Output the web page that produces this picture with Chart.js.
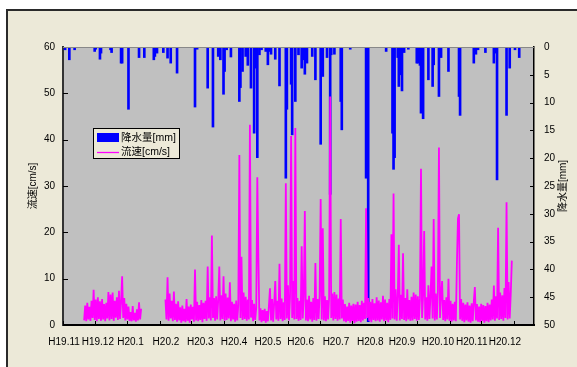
<!DOCTYPE html>
<html>
<head>
<meta charset="utf-8">
<script src="https://cdn.jsdelivr.net/npm/chart.js@4.4.0/dist/chart.umd.min.js"></script>
<style>
html,body{margin:0;padding:0;background:#fff;}
canvas{display:block;}
</style>
</head>
<body>
<canvas id="c" width="577" height="367"></canvas>
<script>
// ---- Data (x = days since H19.11.1) ----
const xLabels = ['H19.11','H19.12','H20.1','H20.2','H20.3','H20.4','H20.5','H20.6','H20.7','H20.8','H20.9','H20.10','H20.11','H20.12'];
const labelDays = [1,33,64,97.5,130,162,194,225,258.5,291,321,355,387,418.5];
const monthStartDays = [0,30,61,92,121,152,182,213,243,274,305,335,366,396,427];

const rainDays = [2,6,11,30,31,35,36,45,46,55,56,62,72,77,86,87,89,95,99,102,108,125,127,137,142,147,149,152,153,155,159,167,168,170,173,175,178,181,183,184,186,188,192,194,195,197,201,205,211,212,216,217,220,223,226,227,229,231,236,239,244,245,246,250,253,254,257,263,264,272,287,288,289,306,312,313,314,317,318,319,321,323,327,335,336,338,339,341,346,350,351,356,358,365,375,376,389,391,393,400,408,409,411,420,423,428,432];
const rainMM = [0.5,2.3,0.5,0.8,0.4,2.2,1.1,0.5,1.0,2.9,2.9,11.2,1.9,1.9,2.3,1.7,1.1,1.0,2.0,2.9,4.7,10.8,0.4,7.4,14.4,1.7,2.3,8.5,4.4,0.5,1.8,9.8,7.3,4.4,1.7,3.3,7.4,15.5,3.8,19.9,1.4,0.5,0.8,3.2,0.8,1.3,2.2,7.0,23.6,11.2,6.7,15.8,9.8,1.4,3.8,2.3,4.9,2.9,1.7,5.9,17.5,3.8,5.3,1.9,26.5,1.4,1.3,9.8,14.9,0.4,23.6,3.8,49.4,0.8,15.5,22.0,19.9,1.9,7.1,5.0,7.9,1.0,0.4,2.9,2.9,3.3,11.9,12.9,5.9,7.1,3.2,8.9,1.9,4.4,8.9,12.3,2.9,1.3,0.5,1.0,2.9,1.1,23.9,12.3,3.8,0.5,1.9];

const flowSeg1Start = 20;
const flowSeg1 = [1.0,4.2,0.8,4.8,1.2,3.9,0.9,5.2,1.5,7.6,
 1.1,5.5,0.8,6.0,1.3,5.1,0.9,5.6,1.2,4.5,
 0.8,4.8,1.4,7.1,1.0,6.6,1.3,7.0,0.9,5.2,
 1.6,6.0,1.1,7.4,1.3,5.0,10.5,1.5,5.8,1.0,
 4.6,1.2,4.0,0.9,2.8,0.8,4.1,1.0,2.6,0.7,
 3.4,1.0,4.9,1.2,3.5];
const flowSeg2Start = 97;
const flowSeg2 = [5.5,1.2,10.3,0.9,6.8,1.4,5.2,0.8,7.2,1.1,
 4.6,0.7,5.1,1.0,3.8,0.5,4.2,0.8,3.5,0.6,
 5.6,0.9,4.0,0.5,4.4,1.2,3.9,0.7,12.0,1.0,
 5.0,0.8,4.3,1.1,5.4,0.6,4.8,1.3,5.2,0.9,
 12.6,1.4,6.0,1.0,19.3,1.5,5.8,0.9,6.2,1.2,
 5.5,12.6,1.0,6.4,1.3,10.5,0.9,6.8,1.1,5.9,
 1.4,9.2,0.8,5.0,1.2,4.6,0.7,5.3,1.0,4.4,
 36.7,1.5,14.7,1.1,7.0,1.3,6.1,0.9,5.5,1.2,
 43.2,1.6,5.4,0.8,4.6,1.1,3.8,31.9,14.5,1.0,
 3.6,0.6,3.2,0.9,3.5,0.5,3.0,0.8,4.2,7.9,
 1.0,5.6,0.7,4.8,9.5,1.2,5.2,0.9,13.2,1.3,
 5.7,0.8,4.9,1.1,30.6,1.4,8.6,1.0,6.1,40.8,
 1.5,9.5,1.2,42.5,1.3,5.8,0.9,5.2,1.1,17.0,
 1.4,6.0,24.6,1.0,5.5,0.8,6.3,1.2,5.0,0.7,
 5.8,1.1,13.4,0.9,5.6,1.3,6.4,27.2,1.2,20.9,
 1.0,6.2,0.8,5.4,1.2,6.0,49.3,1.5,6.8,1.0,
 7.1,1.3,6.6,0.9,5.7,1.2,22.9,1.4,5.5,0.8,
 4.5,0.6,4.0,0.9,4.8,0.5,4.2,0.8,4.6,0.4,
 4.4,0.7,5.0,0.9,4.3,0.6,5.2,1.0,4.8,1.3,
 25.2,1.5,5.8,0.9,5.0,0.6,5.6,1.1,4.7,0.8,
 6.0,1.0,5.3,0.7,4.9,1.2,6.3,0.8,5.5,1.0,
 4.8,0.6,5.6,1.1,19.6,1.4,28.4,1.2,7.7,0.9,
 6.2,17.3,1.0,6.5,1.3,15.5,1.1,5.8,0.8,7.7,
 1.2,5.4,0.9,6.1,1.0,7.0,1.3,6.6,0.9,6.2,
 1.1,5.8,33.7,1.5,6.4,20.3,1.2,6.0,0.9,8.6,
 1.3,6.3,12.6,1.4,22.9,1.0,6.8,1.2,7.4,38.3,
 1.5,6.6,9.5,1.1,5.4,0.8,6.0,1.2,10.0,0.9,
 5.2,0.7,4.6,1.0,5.0,0.8,13.2,23.0,23.9,1.2,
 5.6,0.9,4.8,0.6,4.4,1.0,4.9,0.7,4.2,0.5,
 4.7,0.8,5.1,8.2,1.0,4.5,0.7,4.0,0.6,4.6,
 0.9,4.3,0.5,4.1,0.8,4.8,0.6,4.4,1.0,5.5,
 1.2,8.5,0.9,6.2,1.4,21.0,1.1,7.0,1.3,6.4,
 0.9,8.0,1.5,26.5,1.2,9.3,1.4,6.8,13.9];

const rainLabel = '降水量[mm]';
const flowLabel = '流速[cm/s]';
const yTitle = '流速[cm/s]';
const y2Title = '降水量[mm]';

// ---- build datasets ----
const rainData = rainDays.map((d, i) => ({x: d, y: rainMM[i]}));
const flowData = flowSeg1.map((v, i) => ({x: flowSeg1Start + i, y: v}))
  .concat([{x: flowSeg1Start + flowSeg1.length, y: null}])
  .concat(flowSeg2.map((v, i) => ({x: flowSeg2Start + i, y: v})));

const FONT = "'Liberation Sans', Arial, 'Noto Sans CJK JP', sans-serif";
const CREAM = '#ECE9D8';

const decor = {
  id: 'decor',
  beforeDraw(chart) {
    const {ctx, chartArea: a} = chart;
    ctx.save();
    ctx.fillStyle = '#ffffff';
    ctx.fillRect(0, 0, chart.width, chart.height);
    ctx.fillStyle = CREAM;
    ctx.fillRect(6, 9, chart.width, chart.height);
    ctx.fillStyle = '#2a2a2a';
    ctx.fillRect(6, 9, 2, chart.height);
    ctx.fillRect(6, 9, chart.width, 2);
    ctx.fillStyle = '#C0C0C0';
    ctx.fillRect(a.left, a.top, a.right - a.left, a.bottom - a.top);
    ctx.restore();
  },
  afterDatasetsDraw(chart) {
    const {ctx, chartArea: a, scales} = chart;
    ctx.save();
    ctx.strokeStyle = '#000';
    ctx.lineWidth = 1;
    ctx.beginPath();
    scales.y.ticks.forEach(t => {
      const py = Math.round(scales.y.getPixelForValue(t.value)) + 0.5;
      ctx.moveTo(a.left, py); ctx.lineTo(a.left + 5, py);
    });
    scales.y2.ticks.forEach(t => {
      const py = Math.round(scales.y2.getPixelForValue(t.value)) + 0.5;
      ctx.moveTo(a.right - 4, py); ctx.lineTo(a.right, py);
    });
    monthStartDays.forEach(d => {
      const px = Math.round(scales.x.getPixelForValue(d)) + 0.5;
      ctx.moveTo(px, a.bottom); ctx.lineTo(px, a.bottom - 4);
    });
    ctx.stroke();
    ctx.strokeStyle = '#888';
    ctx.beginPath();
    ctx.moveTo(a.left, a.top + 0.5); ctx.lineTo(a.right, a.top + 0.5);
    ctx.stroke();
    ctx.restore();
  },
  afterDraw(chart) {
    const {ctx, chartArea: a} = chart;
    const ds = chart.data.datasets;
    ctx.save();
    ctx.fillStyle = '#000';
    ctx.font = '10px ' + FONT;
    ctx.textAlign = 'center';
    ctx.textBaseline = 'middle';
    ctx.translate(563, (a.top + a.bottom) / 2);
    ctx.rotate(-Math.PI / 2);
    ctx.fillText(chart.options.scales.y2.title.text, 0, 0);
    ctx.restore();
    ctx.save();
    ctx.fillStyle = CREAM;
    ctx.fillRect(93.5, 128.5, 86, 30);
    ctx.strokeStyle = '#000';
    ctx.lineWidth = 1;
    ctx.strokeRect(93.5, 128.5, 86, 30);
    ctx.fillStyle = ds[0].backgroundColor;
    ctx.fillRect(97, 133, 22, 9);
    ctx.strokeStyle = ds[1].borderColor;
    ctx.lineWidth = 1.3;
    ctx.beginPath(); ctx.moveTo(97, 152.5); ctx.lineTo(119, 152.5); ctx.stroke();
    ctx.fillStyle = '#000';
    ctx.font = '10.5px ' + FONT;
    ctx.textAlign = 'left';
    ctx.textBaseline = 'middle';
    ctx.fillText(ds[0].label, 121, 138);
    ctx.fillText(ds[1].label, 121, 152.5);
    ctx.restore();
  }
};

new Chart(document.getElementById('c'), {
  type: 'bar',
  data: {
    datasets: [
      {
        type: 'bar', label: rainLabel, data: rainData,
        backgroundColor: '#0000FF', borderWidth: 0,
        barThickness: 2, yAxisID: 'y2', xAxisID: 'x', order: 2
      },
      {
        type: 'line', label: flowLabel, data: flowData,
        borderColor: '#FF00FF', backgroundColor: '#FF00FF', borderWidth: 1.8,
        borderJoinStyle: 'bevel',
        pointRadius: 0, tension: 0, spanGaps: false, fill: false,
        yAxisID: 'y', xAxisID: 'x', order: 1
      }
    ]
  },
  options: {
    responsive: false,
    animation: false,
    devicePixelRatio: 1,
    layout: {padding: {left: 0, right: 0, top: 47, bottom: 0}},
    plugins: {legend: {display: false}, tooltip: {enabled: false}},
    scales: {
      x: {
        type: 'linear', min: 0, max: 446, offset: false,
        position: 'bottom',
        grid: {display: true, drawOnChartArea: false, drawTicks: false},
        border: {display: true, color: '#000', width: 2},
        afterBuildTicks: s => { s.ticks = labelDays.map(v => ({value: v})); },
        afterFit: s => { s.height = 42; },
        ticks: {
          autoSkip: false, maxRotation: 0, minRotation: 0, padding: 11,
          color: '#000', font: {family: FONT, size: 10},
          callback: (v, i) => xLabels[i]
        }
      },
      y: {
        type: 'linear', position: 'left', min: 0, max: 60,
        grid: {display: true, drawOnChartArea: false, drawTicks: false},
        border: {display: true, color: '#333', width: 2},
        afterFit: s => { s.width = 63; },
        ticks: {stepSize: 10, padding: 8, color: '#000', font: {family: FONT, size: 10}},
        title: {display: true, text: yTitle, color: '#000', font: {family: FONT, size: 10}, padding: {top: 27, bottom: 0}}
      },
      y2: {
        type: 'linear', position: 'right', min: 0, max: 50, reverse: true,
        grid: {display: true, drawOnChartArea: false, drawTicks: false},
        border: {display: true, color: '#000', width: 1.5},
        afterFit: s => { s.width = 43; },
        ticks: {stepSize: 5, padding: 10, color: '#000', font: {family: FONT, size: 10}},
        title: {display: false, text: y2Title}
      }
    }
  },
  plugins: [decor]
});
</script>
</body>
</html>
